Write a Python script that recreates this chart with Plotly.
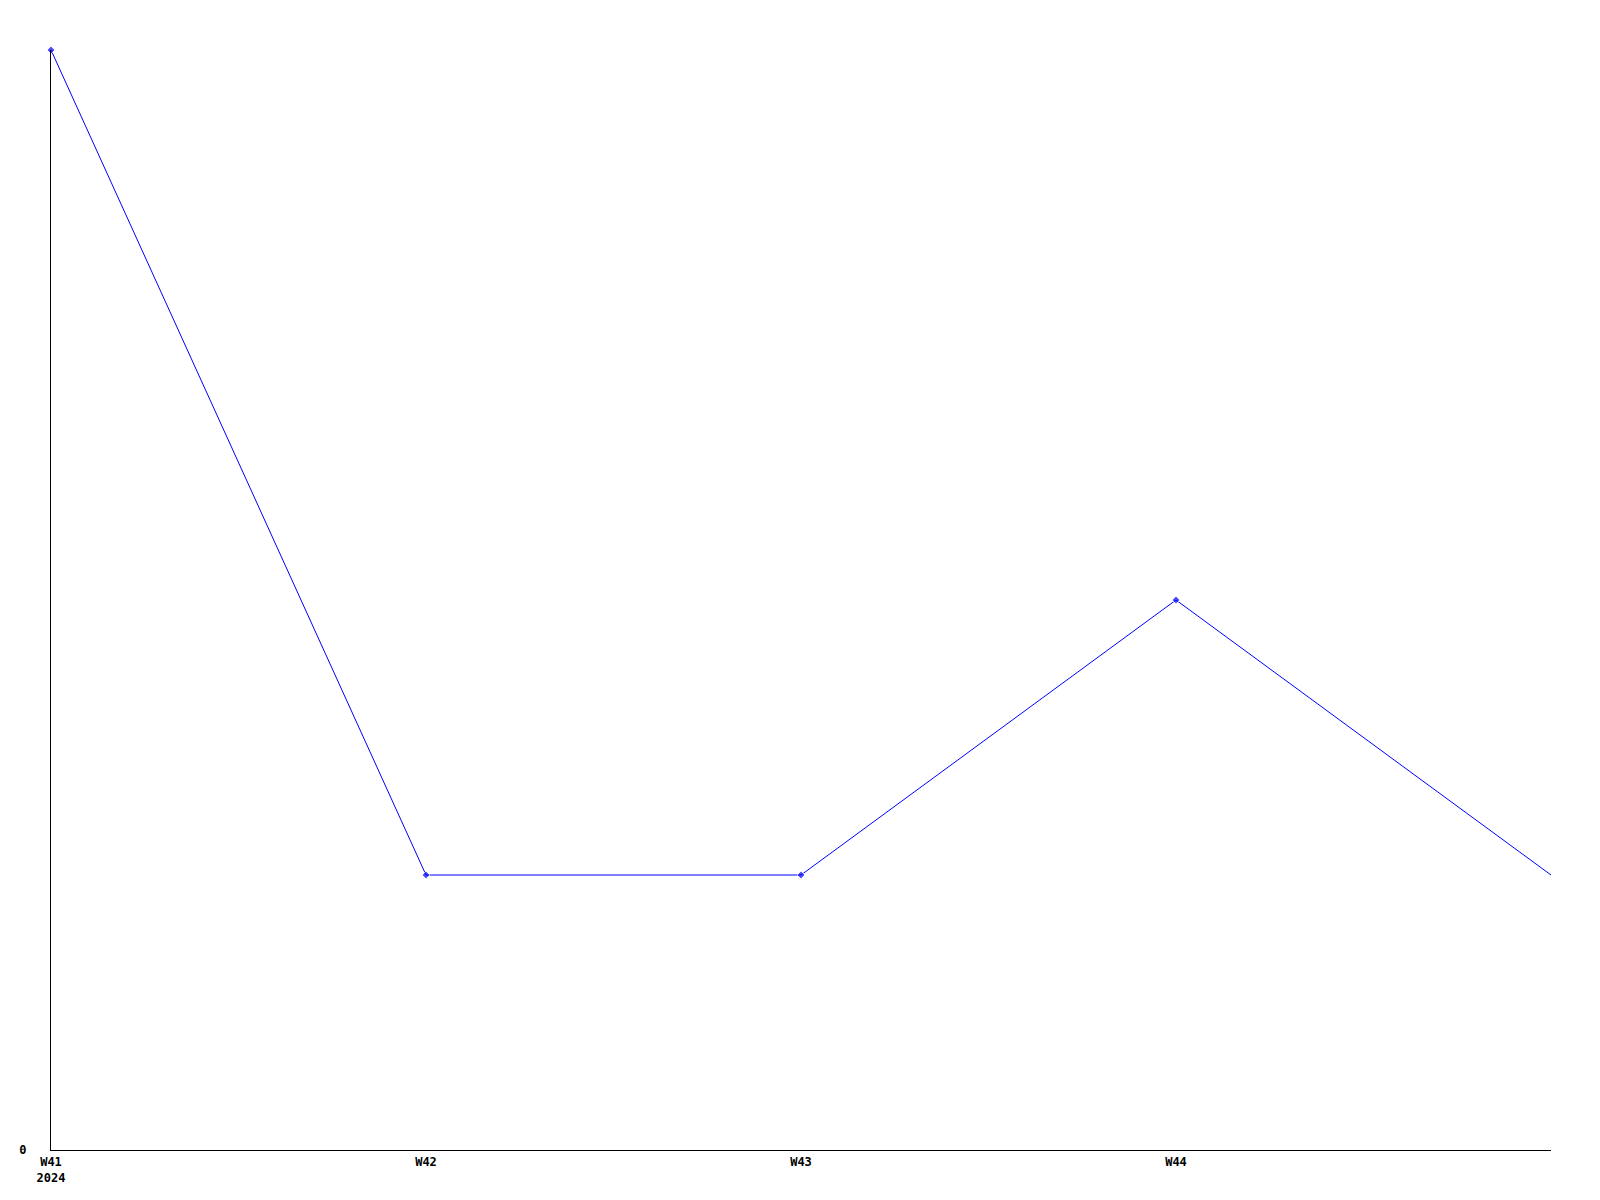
import plotly.graph_objects as go

weeks = ["W41", "W42", "W43", "W44", "W45"]
values = [4, 1, 1, 2, 1]
tick_weeks = ["W41", "W42", "W43", "W44"]
tick_labels = ["W41<br>2024", "W42", "W43", "W44"]
y_ticks = [0]
y_tick_labels = ["0"]

fig = go.Figure()
fig.add_trace(go.Scatter(
    x=weeks,
    y=values,
    mode="lines+markers",
    line=dict(color="#0000ff", width=1),
    marker=dict(symbol="diamond", size=[6, 6, 6, 6, 0], color="#0000ff"),
    cliponaxis=False,
    showlegend=False,
))

tf = dict(family="DejaVu Sans Mono", size=12, color="#000000", weight="bold")

fig.update_layout(
    width=1600,
    height=1200,
    paper_bgcolor="white",
    plot_bgcolor="white",
    margin=dict(l=43, r=57, t=42, b=58, pad=0, autoexpand=False),
    font=dict(family="DejaVu Sans Mono", size=12, color="#000000"),
    xaxis=dict(
        type="category",
        range=[0, 4],
        tickvals=tick_weeks,
        ticktext=tick_labels,
        showgrid=False,
        zeroline=False,
        showline=True,
        linecolor="#000000",
        linewidth=1,
        ticks="",
        ticklabelstandoff=1,
        tickfont=tf,
        automargin=False,
    ),
    yaxis=dict(
        range=[0, 4],
        tickvals=y_ticks,
        ticktext=y_tick_labels,
        showgrid=False,
        zeroline=False,
        showline=True,
        linecolor="#000000",
        linewidth=1,
        ticks="",
        ticklabelstandoff=21,
        tickfont=tf,
        automargin=False,
    ),
)

fig.write_html("out.html")
